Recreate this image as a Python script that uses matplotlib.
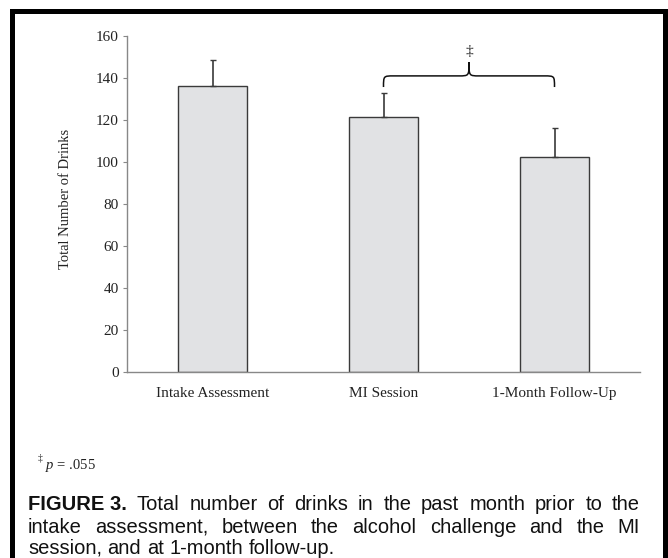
import matplotlib
matplotlib.use("Agg")
import matplotlib.pyplot as plt
from matplotlib.path import Path
from matplotlib.patches import PathPatch, Rectangle

categories = ["Intake Assessment", "MI Session", "1-Month Follow-Up"]
means = [136.2, 121.4, 102.3]
errors = [12.3, 11.5, 13.9]
yticks = [0, 20, 40, 60, 80, 100, 120, 140, 160]
y_label = "Total Number of Drinks"
footnote_p = ".055"
caption_lines = [
    ["FIGURE 3.", "Total", "number", "of", "drinks", "in", "the", "past", "month", "prior", "to", "the"],
    ["intake", "assessment,", "between", "the", "alcohol", "challenge", "and", "the", "MI"],
    ["session,", "and", "at", "1-month", "follow-up."],
]

plt.rcParams["mathtext.fontset"] = "custom"
plt.rcParams["mathtext.it"] = "Liberation Serif:italic"
plt.rcParams["mathtext.rm"] = "Liberation Serif"

W, H = 668, 558
fig = plt.figure(figsize=(W / 100, H / 100), dpi=100)

def fx(px):
    return px / W

def fy(py):
    return 1 - py / H

# outer border
fig.patches.append(Rectangle((fx(12.5), fy(570)), fx(652), (570 - 11) / H,
                             transform=fig.transFigure, fill=False,
                             edgecolor="black", linewidth=3.6))

ax = fig.add_axes([fx(127), fy(372), fx(640) - fx(127), (372 - 36) / H])
x = list(range(len(categories)))
ax.bar(x, means, width=0.4, color="#e1e2e4", edgecolor="#3a3a3a", linewidth=1.0, zorder=2)
ax.errorbar(x, means, yerr=[[0] * len(errors), errors], fmt="none", ecolor="#3a3a3a",
            elinewidth=1.2, capsize=2.5, capthick=1.0, zorder=3)
ax.set_xlim(-0.5, 2.5)
ax.set_ylim(0, 160)
ax.set_yticks(yticks)
ax.set_xticks(x)
ax.set_xticklabels(categories, fontfamily="Liberation Serif", fontsize=11, color="#222222")
ax.tick_params(axis="x", length=0, pad=11)
ax.tick_params(axis="y", length=3, width=0.8, color="#888888", pad=3,
               labelsize=11, labelcolor="#222222")
for lab in ax.get_yticklabels():
    lab.set_fontfamily("Liberation Serif")
for s in ["top", "right"]:
    ax.spines[s].set_visible(False)
for s in ["left", "bottom"]:
    ax.spines[s].set_color("#888888")
    ax.spines[s].set_linewidth(1.0)
ax.set_ylabel(y_label, fontfamily="Liberation Serif", fontsize=10.5, color="#222222")
ax.yaxis.set_label_coords(-0.108, 0.515)

# brace between MI Session and 1-Month Follow-Up
x0, x1 = x[1], x[2]
xm = (x0 + x1) / 2
y_end, y_h, y_tip = 135.7, 141.0, 147.5
dx = 0.06
verts = [
    (x0, y_end),
    (x0, y_h), (x0, y_h), (x0 + dx, y_h),
    (xm - dx, y_h),
    (xm, y_h), (xm, y_h), (xm, y_tip),
    (xm, y_h), (xm, y_h), (xm + dx, y_h),
    (x1 - dx, y_h),
    (x1, y_h), (x1, y_h), (x1, y_end),
]
codes = [Path.MOVETO,
         Path.CURVE4, Path.CURVE4, Path.CURVE4,
         Path.LINETO,
         Path.CURVE4, Path.CURVE4, Path.CURVE4,
         Path.CURVE4, Path.CURVE4, Path.CURVE4,
         Path.LINETO,
         Path.CURVE4, Path.CURVE4, Path.CURVE4]
ax.add_patch(PathPatch(Path(verts, codes), fill=False, edgecolor="#111111", linewidth=1.1,
                       clip_on=False, zorder=4))
ax.text(xm, 152.5, "\u2021", ha="center", va="center", fontsize=11,
        fontfamily="Liberation Serif", color="#222222")

# footnote
fig.text(fx(38), fy(462), "\u2021", fontsize=7, fontfamily="Liberation Serif",
         va="bottom", ha="left", color="#222222")
fig.text(fx(45), fy(469), "$\\it{p}$ = " + footnote_p, fontsize=10.5,
         fontfamily="Liberation Serif", va="baseline", ha="left", color="#222222")

# justified caption
fig.canvas.draw()
renderer = fig.canvas.get_renderer()
left_px, right_px = 28, 640
base_y = [510, 533, 554]
fs = 14.5
for li, words in enumerate(caption_lines):
    arts = []
    widths = []
    for wi, w in enumerate(words):
        bold = (li == 0 and wi == 0)
        t = fig.text(0, fy(base_y[li]), w, fontsize=fs, fontfamily="Liberation Sans",
                     fontweight="bold" if bold else "normal", va="baseline", ha="left",
                     color="#111111")
        arts.append(t)
        widths.append(t.get_window_extent(renderer).width)
    total = sum(widths)
    if li < len(caption_lines) - 1:
        gap = (right_px - left_px - total) / (len(words) - 1)
    else:
        sp = fig.text(0, 0, "a b", fontsize=fs, fontfamily="Liberation Sans")
        sp2 = fig.text(0, 0, "ab", fontsize=fs, fontfamily="Liberation Sans")
        gap = sp.get_window_extent(renderer).width - sp2.get_window_extent(renderer).width
        sp.remove(); sp2.remove()
    cur = left_px
    for t, wd in zip(arts, widths):
        t.set_x(fx(cur))
        cur += wd + gap

fig.savefig("out.png", dpi=100)
